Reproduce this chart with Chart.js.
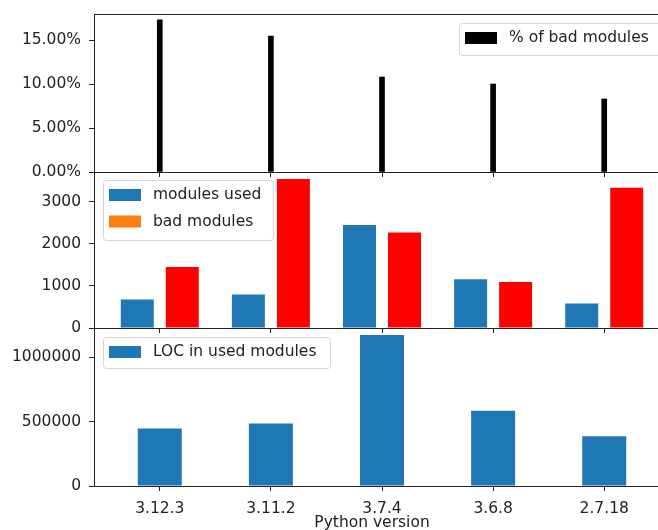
<!DOCTYPE html>
<html>
<head>
<meta charset="utf-8">
<script src="https://cdn.jsdelivr.net/npm/chart.js@4.4.1/dist/chart.umd.min.js"></script>
<style>
  html, body { margin: 0; padding: 0; background: #fff; overflow: hidden; }
  #wrap { position: relative; width: 658px; height: 530px; overflow: hidden; }
  canvas { position: absolute; left: 0; top: 0; }
</style>
</head>
<body>
<div id="wrap">
  <canvas id="pct" width="680" height="530"></canvas>
  <canvas id="mods" width="680" height="530"></canvas>
  <canvas id="loc" width="680" height="530"></canvas>
</div>
<script>
const versions = ['3.12.3', '3.11.2', '3.7.4', '3.6.8', '2.7.18'];
const badPercent = [17.3, 15.45, 10.8, 10.0, 8.3];
const modulesUsed = [676, 795, 2445, 1160, 581];
const badModules = [1452, 3540, 2271, 1095, 3333];
const locUsed = [447000, 486000, 1174000, 584000, 387000];
const pctTicks = [0, 5, 10, 15];
const modTicks = [0, 1000, 2000, 3000];
const locTicks = [0, 500000, 1000000];

const INK = '#222';
const FONT = "15.5px 'DejaVu Sans', sans-serif";
Chart.defaults.font.family = "'DejaVu Sans', sans-serif";
Chart.defaults.font.size = 15.5;
Chart.defaults.color = INK;
Chart.defaults.animation = false;

const toXY = arr => arr.map((v, i) => ({ x: i, y: v }));

// box round the plot area (matplotlib spines)
const frame = {
  id: 'frame',
  afterDraw(chart) {
    const { ctx, chartArea: a } = chart;
    ctx.save();
    ctx.strokeStyle = INK;
    ctx.lineWidth = 1;
    ctx.strokeRect(Math.round(a.left) + 0.5, Math.round(a.top) + 0.5,
      Math.round(a.right - a.left), Math.round(a.bottom - a.top));
    ctx.restore();
  }
};

// legend box drawn inside the axes
const boxLegend = {
  id: 'boxLegend',
  afterDraw(chart, args, o) {
    if (!o.items) return;
    const ctx = chart.ctx;
    ctx.save();
    ctx.beginPath();
    ctx.roundRect(o.x + 0.5, o.y + 0.5, o.w, o.h, 3);
    ctx.fillStyle = 'rgba(255,255,255,0.8)';
    ctx.fill();
    ctx.strokeStyle = '#d6d6d6';
    ctx.lineWidth = 1;
    ctx.stroke();
    ctx.font = FONT;
    ctx.textBaseline = 'middle';
    o.items.forEach((it, i) => {
      const cy = o.y + o.first + i * o.step;
      ctx.fillStyle = it.color;
      ctx.fillRect(o.x + 6, cy - 6, 32, 12);
      ctx.fillStyle = INK;
      ctx.fillText(it.label, o.x + 50, cy);
    });
    ctx.restore();
  }
};

const xTitle = {
  id: 'xTitle',
  afterDraw(chart, args, o) {
    if (!o.text) return;
    const ctx = chart.ctx;
    ctx.save();
    ctx.font = FONT;
    ctx.fillStyle = INK;
    ctx.textAlign = 'center';
    ctx.textBaseline = 'alphabetic';
    ctx.fillText(o.text, o.x, o.y);
    ctx.restore();
  }
};

function xScale(showLabels, height) {
  return {
    type: 'linear', min: -0.592, max: 4.592, offset: false,
    afterBuildTicks: s => { s.ticks = versions.map((_, i) => ({ value: i })); },
    afterFit: s => { s.height = height; },
    grid: { drawOnChartArea: false, drawTicks: true, tickLength: 5, color: INK, offset: false },
    border: { display: false },
    ticks: { display: showLabels, padding: 9, maxRotation: 0, autoSkip: false,
      callback: v => versions[v] }
  };
}

function yScale(max, tickVals, fmt) {
  return {
    min: 0, max: max,
    afterBuildTicks: s => { s.ticks = tickVals.map(v => ({ value: v })); },
    afterFit: s => { s.width = 94; s.paddingTop = 0; s.paddingBottom = 0; },
    grid: { drawOnChartArea: false, drawTicks: true, tickLength: 5, color: INK },
    border: { display: false },
    ticks: { padding: 8, callback: fmt }
  };
}

function baseOpts(pad, xs, ys, legend, title) {
  return {
    responsive: false,
    devicePixelRatio: 1,
    layout: { padding: pad },
    events: [],
    scales: { x: xs, y: ys },
    plugins: {
      legend: { display: false },
      tooltip: { enabled: false },
      boxLegend: legend,
      xTitle: title || {}
    }
  };
}

new Chart(document.getElementById('pct'), {
  type: 'bar',
  data: {
    datasets: [{ label: '% of bad modules', data: toXY(badPercent),
      backgroundColor: '#000000', barThickness: 5 }]
  },
  options: baseOpts({ top: 14, bottom: 350, left: 0, right: 10 },
    xScale(false, 8),
    yScale(17.96, pctTicks, v => v.toFixed(2) + '%'),
    { x: 459, y: 23, w: 210, h: 32, first: 15, step: 0,
      items: [{ label: '% of bad modules', color: '#000000' }] }),
  plugins: [frame, boxLegend, xTitle]
});

new Chart(document.getElementById('mods'), {
  type: 'bar',
  data: {
    datasets: [
      { label: 'modules used', data: toXY(modulesUsed), backgroundColor: '#1f77b4',
        categoryPercentage: 0.81, barPercentage: 0.733 },
      { label: 'bad modules', data: toXY(badModules), backgroundColor: '#ff0000',
        categoryPercentage: 0.81, barPercentage: 0.733 }
    ]
  },
  options: baseOpts({ top: 172, bottom: 194, left: 0, right: 10 },
    xScale(false, 8),
    yScale(3707, modTicks, v => String(v)),
    { x: 103, y: 180, w: 170, h: 60, first: 15, step: 26.5,
      items: [{ label: 'modules used', color: '#1f77b4' }, { label: 'bad modules', color: '#ff7f0e' }] }),
  plugins: [frame, boxLegend, xTitle]
});

new Chart(document.getElementById('loc'), {
  type: 'bar',
  data: {
    datasets: [{ label: 'LOC in used modules', data: toXY(locUsed), backgroundColor: '#1f77b4',
      categoryPercentage: 0.8, barPercentage: 0.495 }]
  },
  options: baseOpts({ top: 328, bottom: 0, left: 0, right: 10 },
    xScale(true, 44),
    yScale(1228000, locTicks, v => String(v)),
    { x: 103, y: 337, w: 227, h: 31, first: 15, step: 0,
      items: [{ label: 'LOC in used modules', color: '#1f77b4' }] },
    { text: 'Python version', x: 372, y: 527 }),
  plugins: [frame, boxLegend, xTitle]
});
</script>
</body>
</html>
